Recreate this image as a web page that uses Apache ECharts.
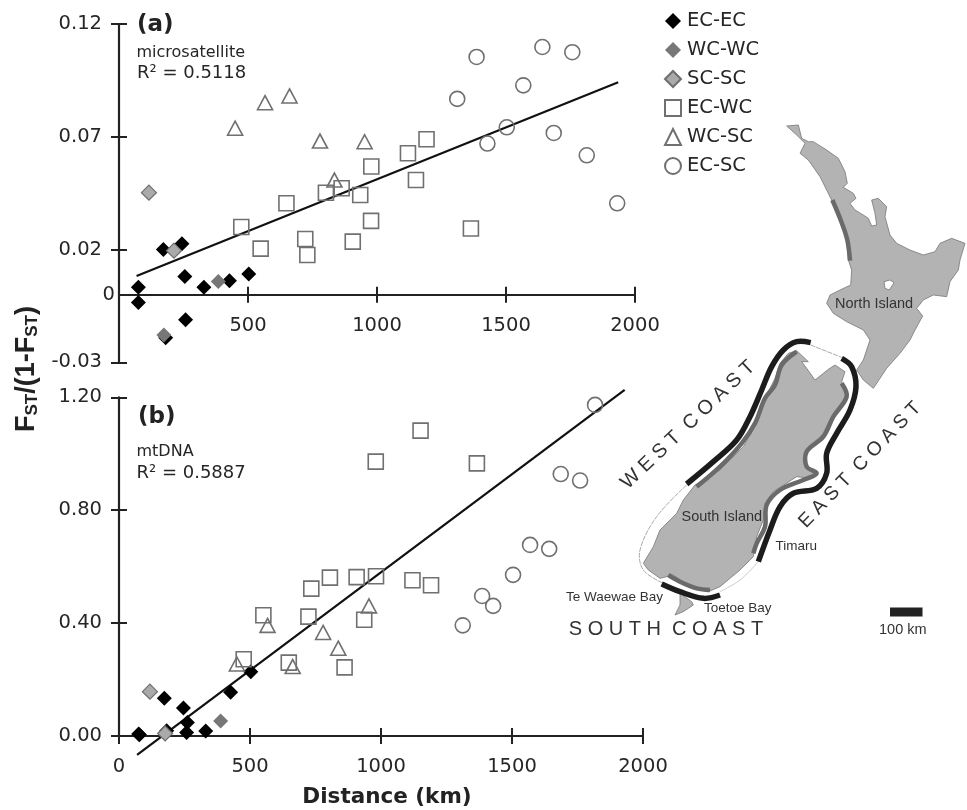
<!DOCTYPE html>
<html><head><meta charset="utf-8">
<style>html,body{margin:0;padding:0;background:#fff}#c{width:967px;height:810px}</style>
<script src="https://cdn.jsdelivr.net/npm/echarts@6/dist/echarts.min.js"></script>
</head><body><div id="c"></div>
<script>
// ---- data: panel (a) microsatellite ----
const a_ECEC=[[75,.00325],[75,-.0035],[172,.020],[244,.0226],[255,.008],[329,.00325],[428,.0062],[503,.0092],[258,-.0111],[181,-.0191]];
const a_WCWC=[[174,-.0179],[385,.0058]];
const a_SCSC=[[116,.0452],[213,.0195]];
const a_ECWC=[[474,.0300],[549,.0204],[649,.0405],[722,.0247],[730,.0176],[802,.0452],[863,.0472],[935,.0442],[906,.0235],[977,.0327],[978,.0568],[1120,.0627],[1192,.0689],[1151,.0508],[1364,.0293]];
const a_WCSC=[[450,.0738],[566,.0851],[661,.0881],[779,.0681],[952,.0678],[835,.0508]];
const a_ECSC=[[1386,.1054],[1641,.1098],[1757,.1075],[1567,.0928],[1311,.0868],[1503,.0742],[1428,.0670],[1685,.0717],[1813,.0618],[1931,.0405]];
const a_fit=[[68,.0083],[1935,.0942]];
// ---- data: panel (b) mtDNA ----
const b_ECEC=[[75,.007],[78,.004],[173,.1335],[246,.099],[261,.048],[258,.012],[182,.019],[331,.018],[426,.155],[503,.228]];
const b_WCWC=[[388,.053]];
const b_SCSC=[[118,.157],[176,.009]];
const b_ECWC=[[476,.272],[551,.428],[648,.26],[723,.423],[734,.522],[805,.561],[907,.563],[981,.566],[936,.412],[861,.243],[980,.972],[1151,1.082],[1120,.552],[1191,.534],[1366,.966]];
const b_WCSC=[[450,.255],[567,.392],[663,.246],[779,.367],[837,.311],[954,.461]];
const b_ECSC=[[1817,1.173],[1642,.663],[1686,.928],[1760,.905],[1569,.677],[1504,.571],[1386,.496],[1428,.461],[1312,.392]];
const b_fit=[[69,-.067],[1930,1.226]];
// ---- tick labels ----
const a_yLabels=[-0.03,0.02,0.07,0.12];
const a_yTicks=[-0.03,0.02,0.07,0.12];
const a_xTicks=[500,1000,1500,2000];
const b_yTicks=[0,0.4,0.8,1.2];
const b_xTicks=[0,500,1000,1500,2000];
const legendNames=['EC-EC','WC-WC','SC-SC','EC-WC','WC-SC','EC-SC'];

const INK='#222', TXT='#262626', FONT='"DejaVu Sans",Verdana,sans-serif', MAPF='"Liberation Sans",Arial,sans-serif';
const clear='rgba(255,255,255,0)';
const styles={
 'EC-EC':{symbol:'diamond',symbolSize:15,itemStyle:{color:'#000',borderColor:'#000',borderWidth:0,opacity:1}},
 'WC-WC':{symbol:'diamond',symbolSize:15,itemStyle:{color:'#777',borderColor:'#777',borderWidth:0,opacity:1}},
 'SC-SC':{symbol:'diamond',symbolSize:15,itemStyle:{color:'#aaa',borderColor:'#6e6e6e',borderWidth:1.2,opacity:1}},
 'EC-WC':{symbol:'rect',symbolSize:15,itemStyle:{color:clear,borderColor:'#707070',borderWidth:1.6,opacity:1}},
 'WC-SC':{symbol:'triangle',symbolSize:[15,14],itemStyle:{color:clear,borderColor:'#707070',borderWidth:1.6,opacity:1}},
 'EC-SC':{symbol:'circle',symbolSize:15,itemStyle:{color:clear,borderColor:'#707070',borderWidth:1.6,opacity:1}}
};
function scat(name,data,i){return Object.assign({type:'scatter',name,data,xAxisIndex:i*2,yAxisIndex:i*2,clip:false,z:3},styles[name]);}
function fit(data,i){return {type:'line',data,xAxisIndex:i*2,yAxisIndex:i*2,clip:false,symbol:'none',z:2,lineStyle:{color:'#111',width:2.2},silent:true};}

const line={lineStyle:{color:INK,width:2.2}};
const tick={length:8,lineStyle:{color:INK,width:2}};
const lab={color:TXT,fontFamily:FONT,fontSize:19.5};
const plain=v=>String(v);
function xAxisOf(i,ticks,labels,min,max,margin){return {type:'value',gridIndex:i,position:'bottom',min,max,splitLine:{show:false},
 axisLine:Object.assign({show:true,onZero:true,onZeroAxisIndex:i*2},line),
 axisTick:Object.assign({customValues:ticks},tick),
 axisLabel:Object.assign({customValues:labels,margin,formatter:plain,showMinLabel:true,showMaxLabel:true,hideOverlap:false},lab)};}
function xInner(i,ticks,min,max){return {type:'value',gridIndex:i,position:'bottom',min,max,splitLine:{show:false},
 axisLine:{show:false,onZero:true,onZeroAxisIndex:i*2},axisLabel:{show:false},
 axisTick:Object.assign({customValues:ticks,inside:true},tick)};}
function yAxisOf(i,ticks,labels,min,max,fmt){return {type:'value',gridIndex:i,position:'left',min,max,splitLine:{show:false},
 axisLine:Object.assign({show:true,onZero:false},line),
 axisTick:Object.assign({customValues:ticks},tick),
 axisLabel:Object.assign({customValues:labels,margin:17,formatter:fmt,showMinLabel:true,showMaxLabel:true,padding:[3,0,0,0]},lab)};}
function yInner(i,ticks,labels,min,max,fmt){return {type:'value',gridIndex:i,position:'left',min,max,splitLine:{show:false},
 axisLine:{show:false,onZero:false},
 axisLabel:Object.assign({show:!!labels,customValues:labels||[],margin:4,formatter:fmt,padding:[6,0,0,0]},lab),
 axisTick:Object.assign({customValues:ticks,inside:true},tick)};}

// ---- map illustration (traced outline, in zoom coordinates) ----
const Z3=p=>p.map(q=>[600+q[0]/3,100+q[1]/3]);
const Z4=p=>p.map(q=>[540+q[0]/3,330+q[1]/3]);
const northIsland=[[560,78],[595,75],[605,115],[625,125],[640,125],[680,150],[715,175],[735,215],[742,250],[730,262],[760,280],[768,295],[750,310],[765,330],[790,345],[805,355],[815,378],[830,375],[825,340],[815,300],[835,295],[860,320],[855,350],[870,405],[890,430],[930,450],[970,465],[1005,455],[1020,430],[1055,415],[1095,430],[1080,480],[1075,510],[1050,545],[1040,590],[1000,585],[970,600],[950,625],[968,648],[945,690],[930,720],[900,760],[860,805],[820,865],[790,840],[770,810],[790,780],[810,720],[790,690],[740,665],[700,640],[680,610],[690,585],[720,570],[752,555],[755,510],[745,480],[740,420],[720,350],[695,300],[660,230],[625,180],[600,160],[615,130],[590,105]];
const lake=[[852,545],[870,540],[882,548],[868,570],[855,565]];
const niStrip=[[697,300],[722,360],[742,420],[750,482]];
const southIsland=[[770,62],[805,95],[785,95],[800,115],[825,150],[865,118],[885,105],[915,125],[905,155],[925,195],[900,230],[870,270],[850,310],[810,350],[790,380],[795,410],[825,420],[815,445],[770,440],[700,485],[675,520],[670,570],[650,620],[640,680],[600,720],[540,770],[505,785],[450,770],[400,735],[360,745],[325,720],[310,700],[340,650],[360,600],[410,550],[430,510],[465,465],[540,420],[610,350],[650,280],[670,215],[705,145],[720,100],[745,70]];
const stewart=[[420,790],[455,815],[460,825],[430,845],[405,855],[420,825]];
const stripW=[[770,65],[725,105],[705,165],[675,205],[645,280],[605,340],[540,410],[470,470]];
const stripE=[[905,160],[920,200],[880,260],[850,320],[800,365],[800,410],[830,430],[790,450],[720,480],[680,525],[675,590],[650,640],[640,670]];
const stripS=[[385,735],[420,755],[470,775],[510,780]];
const bandW=[[440,462],[520,395],[590,330],[630,260],[665,180],[695,110],[730,60],[770,35],[812,38]];
const bandE=[[905,85],[935,110],[948,170],[930,240],[890,310],[860,370],[860,430],[830,475],[760,490],[720,530],[690,600],[655,695]];
const bandS=[[365,762],[420,785],[490,805],[540,795]];
const dash1=[[812,45],[905,82]];
const dash2=[[440,465],[350,560],[300,660],[310,720],[370,760]];
const dash3=[[540,785],[600,750],[655,695]];

const LAND='#b3b3b3', DARK='#6a6a6a';
const poly=(pts,fill)=>({type:'polygon',shape:{points:pts},style:{fill,stroke:'#777',lineWidth:.8}});
const pl=(pts,stroke,w,extra)=>({type:'polyline',shape:{points:pts,smooth:.35},style:Object.assign({fill:null,stroke,lineWidth:w,lineCap:'butt'},extra||{})});
const txt=(text,x,y,size,opt)=>Object.assign({type:'text',x,y,style:Object.assign({text,fontSize:size,fontFamily:MAPF,fill:'#333',textAlign:'left',textVerticalAlign:'middle'},(opt&&opt.style)||{})},opt&&opt.el||{});
const note=(text,x,y,size,bold)=>({type:'text',x,y,style:{text,fontSize:size,fontFamily:FONT,fontWeight:bold?'bold':'normal',fill:bold?'#222':TXT,textAlign:'left',textVerticalAlign:'middle'}});

const graphic=[
 poly(Z3(northIsland),LAND),poly(Z3(lake),'#fff'),pl(Z3(niStrip),DARK,4.5),
 poly(Z4(southIsland),LAND),poly(Z4(stewart),LAND),
 pl(Z4(stripW),DARK,4.5),pl(Z4(stripE),DARK,4.5),pl(Z4(stripS),DARK,4.5),
 pl(Z4(dash1),'#aaa',1,{lineDash:[5,1]}),pl(Z4(dash2),'#aaa',1,{lineDash:[5,1]}),pl(Z4(dash3),'#ccc',1),
 pl(Z4(bandW),'#1c1c1c',5.5),pl(Z4(bandE),'#1c1c1c',5.5),pl(Z4(bandS),'#1c1c1c',5.5),
 txt('North Island',835,304,14.5),txt('South Island',681.5,516.5,14.5),txt('Timaru',775.5,546.5,13.5),
 txt('Te Waewae Bay',566,597.5,13.5),txt('Toetoe Bay',704,608,13.5),txt('100 km',879,630,14.5),
 {type:'rect',shape:{x:890,y:607.5,width:32.5,height:9},style:{fill:'#222'}},
 txt('W E S T  C O A S T',688,425,20,{style:{textAlign:'center'},el:{rotation:43.5*Math.PI/180}}),
 txt('E A S T  C O A S T',860,465,19.5,{style:{textAlign:'center'},el:{rotation:46*Math.PI/180}}),
 txt('S O U T H  C O A S T',666,629,20,{style:{textAlign:'center'}}),
 note('(a)',137,25,23,true),note('microsatellite',136.5,53,16),note('R² = 0.5118',137,73,18),
 note('(b)',138,417,23,true),note('mtDNA',136.5,451.5,16),note('R² = 0.5887',136.5,473,18),
 {type:'text',x:387,y:797,style:{text:'Distance (km)',fontSize:21.5,fontFamily:FONT,fontWeight:'bold',fill:'#222',textAlign:'center',textVerticalAlign:'middle'}},
 {type:'text',x:27,y:369,rotation:Math.PI/2,style:{text:'F{s|ST}/(1-F{s|ST})',fontSize:27,fontFamily:MAPF,fontWeight:'bold',fill:'#222',textAlign:'center',textVerticalAlign:'middle',
   rich:{s:{fontSize:17,fontFamily:MAPF,fontWeight:'bold',fill:'#222',verticalAlign:'bottom',lineHeight:27}}}}
];
graphic.forEach(g=>{g.silent=true;});

const fmt2=v=>v.toFixed(2);
const option={
 animation:false,backgroundColor:'#fff',
 legend:{data:legendNames,orient:'vertical',left:659,top:6,itemWidth:16,itemHeight:16,itemGap:9,selectedMode:false,
  textStyle:{color:TXT,fontFamily:FONT,fontSize:19.5,padding:[0,0,0,1]}},
 grid:[{left:119,top:24,width:516,height:338.3},{left:119,top:397.3,width:524,height:338.7}],
 xAxis:[xAxisOf(0,a_xTicks,a_xTicks,0,2000,-46),xInner(0,a_xTicks,0,2000),xAxisOf(1,b_xTicks,b_xTicks,0,2000,21),xInner(1,b_xTicks,0,2000)],
 yAxis:[yAxisOf(0,a_yTicks,a_yLabels,-0.03,0.12,fmt2),
        yInner(0,a_yTicks,[0],-0.03,0.12,v=>String(v)),
        yAxisOf(1,b_yTicks,b_yTicks,0,1.2,fmt2),
        yInner(1,b_yTicks,null,0,1.2)],
 series:[
  fit(a_fit,0),fit(b_fit,1),
  scat('EC-EC',a_ECEC,0),scat('WC-WC',a_WCWC,0),scat('SC-SC',a_SCSC,0),scat('EC-WC',a_ECWC,0),scat('WC-SC',a_WCSC,0),scat('EC-SC',a_ECSC,0),
  scat('EC-EC',b_ECEC,1),scat('WC-WC',b_WCWC,1),scat('SC-SC',b_SCSC,1),scat('EC-WC',b_ECWC,1),scat('WC-SC',b_WCSC,1),scat('EC-SC',b_ECSC,1)
 ],
 graphic:{elements:graphic}
};
const chart=echarts.init(document.getElementById('c'),null,{renderer:'canvas'});
chart.setOption(option);
</script></body></html>
